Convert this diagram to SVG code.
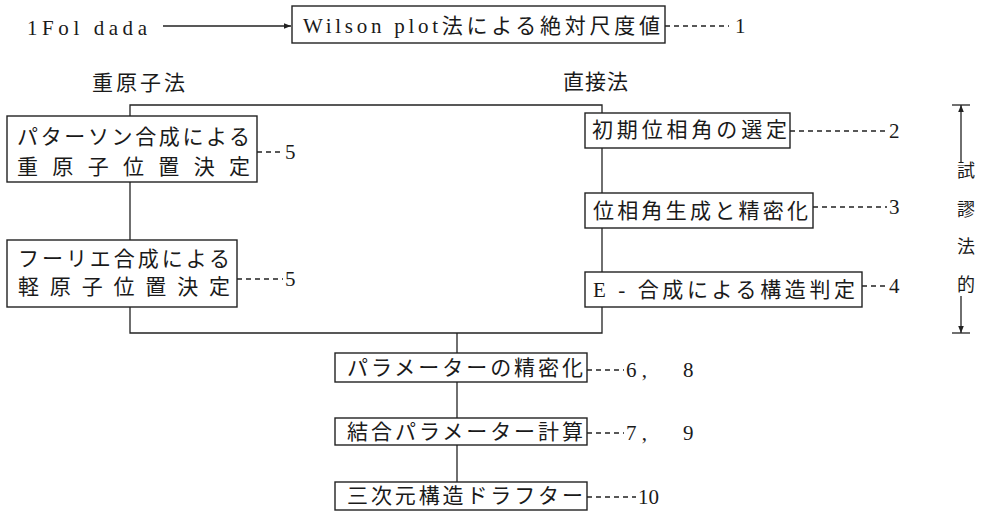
<svg xmlns="http://www.w3.org/2000/svg" width="986" height="519" viewBox="0 0 986 519">
<style>
text{font-family:"Liberation Serif","Noto Sans CJK JP",serif;fill:#1a1a1a;dominant-baseline:central}
.t{font-size:21px}
.h{font-size:21px}
.n{font-size:21px}
.v{font-size:18px}
rect{fill:#fff;stroke:#222;stroke-width:1.4}
.c line,.c polyline{stroke:#222;stroke-width:1.3;fill:none}
.d{stroke:#222;stroke-width:1.2;stroke-dasharray:5 4;fill:none}
</style>
<defs>
<marker id="ah" viewBox="0 0 10 10" refX="10" refY="5" markerWidth="7" markerHeight="7" orient="auto" markerUnits="userSpaceOnUse">
<path d="M0,1 L10,5 L0,9 Z" fill="#222"/>
</marker>
</defs>
<rect x="0" y="0" width="986" height="519" style="fill:#fff;stroke:none"/>

<g class="c" id="connectors">
<line x1="163" y1="26" x2="291" y2="26" marker-end="url(#ah)"/>
<polyline points="130,116 130,105 602,105 602,113"/>
<line x1="130" y1="182" x2="130" y2="240"/>
<polyline points="130,307 130,333 602,333 602,307"/>
<line x1="602" y1="148" x2="602" y2="193"/>
<line x1="602" y1="228" x2="602" y2="272"/>
<line x1="457" y1="333" x2="457" y2="353"/>
<line x1="457" y1="382" x2="457" y2="418"/>
<line x1="457" y1="445" x2="457" y2="482"/>
<line class="d" x1="665" y1="26" x2="729" y2="26"/>
<line class="d" x1="257" y1="152" x2="283" y2="152"/>
<line class="d" x1="237" y1="279" x2="283" y2="279"/>
<line class="d" x1="790" y1="131" x2="887" y2="131"/>
<line class="d" x1="813" y1="207" x2="887" y2="207"/>
<line class="d" x1="862" y1="286" x2="887" y2="286"/>
<line class="d" x1="587" y1="370" x2="624" y2="370"/>
<line class="d" x1="587" y1="433" x2="624" y2="433"/>
<line class="d" x1="587" y1="497" x2="636" y2="497"/>
<line x1="952" y1="105" x2="970" y2="105"/>
<line x1="961" y1="163" x2="961" y2="105" marker-end="url(#ah)"/>
<line x1="961" y1="296" x2="961" y2="333" marker-end="url(#ah)"/>
<line x1="952" y1="333" x2="970" y2="333"/>
</g>

<g id="source">
<text class="n" x="27" y="28" textLength="120" lengthAdjust="spacing">1Fol dada</text>
</g>

<g id="wilson">
<rect x="292" y="6" width="373" height="37"/>
<text class="t" x="303" y="26" textLength="357" lengthAdjust="spacing">Wilson plot法による絶対尺度値</text>
<text class="n" x="735" y="26">1</text>
</g>

<g id="label-heavy">
<text class="h" x="92" y="83" textLength="93" lengthAdjust="spacing">重原子法</text>
</g>
<g id="label-direct">
<text class="h" x="563" y="82" textLength="65" lengthAdjust="spacing">直接法</text>
</g>

<g id="patterson">
<rect x="7" y="116" width="250" height="66"/>
<text class="t" x="17" y="137" textLength="233" lengthAdjust="spacing">パターソン合成による</text>
<text class="t" x="17" y="167" textLength="233" lengthAdjust="spacing">重 原 子 位 置 決 定</text>
<text class="n" x="285" y="152">5</text>
</g>

<g id="fourier">
<rect x="7" y="240" width="230" height="67"/>
<text class="t" x="18" y="259" textLength="212" lengthAdjust="spacing">フーリエ合成による</text>
<text class="t" x="18" y="287" textLength="212" lengthAdjust="spacing">軽 原 子 位 置 決 定</text>
<text class="n" x="285" y="279">5</text>
</g>

<g id="initial-phase">
<rect x="585" y="113" width="205" height="35"/>
<text class="t" x="592" y="130" textLength="195" lengthAdjust="spacing">初期位相角の選定</text>
<text class="n" x="889" y="131">2</text>
</g>

<g id="phase-gen">
<rect x="585" y="193" width="228" height="35"/>
<text class="t" x="593" y="211" textLength="215" lengthAdjust="spacing">位相角生成と精密化</text>
<text class="n" x="889" y="207">3</text>
</g>

<g id="e-synth">
<rect x="585" y="272" width="277" height="35"/>
<text class="t" x="593" y="290" textLength="262" lengthAdjust="spacing">E - 合成による構造判定</text>
<text class="n" x="889" y="286">4</text>
</g>

<g id="trial-error">
<text class="v" x="957" y="171">試</text>
<text class="v" x="957" y="210">謬</text>
<text class="v" x="957" y="247">法</text>
<text class="v" x="957" y="285">的</text>
</g>

<g id="param-refine">
<rect x="335" y="353" width="252" height="29"/>
<text class="t" x="347" y="368" textLength="236" lengthAdjust="spacing">パラメーターの精密化</text>
<text class="n" x="626" y="370">6 ,</text>
<text class="n" x="683" y="370">8</text>
</g>

<g id="bond-param">
<rect x="335" y="418" width="252" height="27"/>
<text class="t" x="347" y="432" textLength="236" lengthAdjust="spacing">結合パラメーター計算</text>
<text class="n" x="626" y="433">7 ,</text>
<text class="n" x="683" y="433">9</text>
</g>

<g id="drafter">
<rect x="335" y="482" width="252" height="28"/>
<text class="t" x="347" y="496" textLength="236" lengthAdjust="spacing">三次元構造ドラフター</text>
<text class="n" x="638" y="497">10</text>
</g>
</svg>
